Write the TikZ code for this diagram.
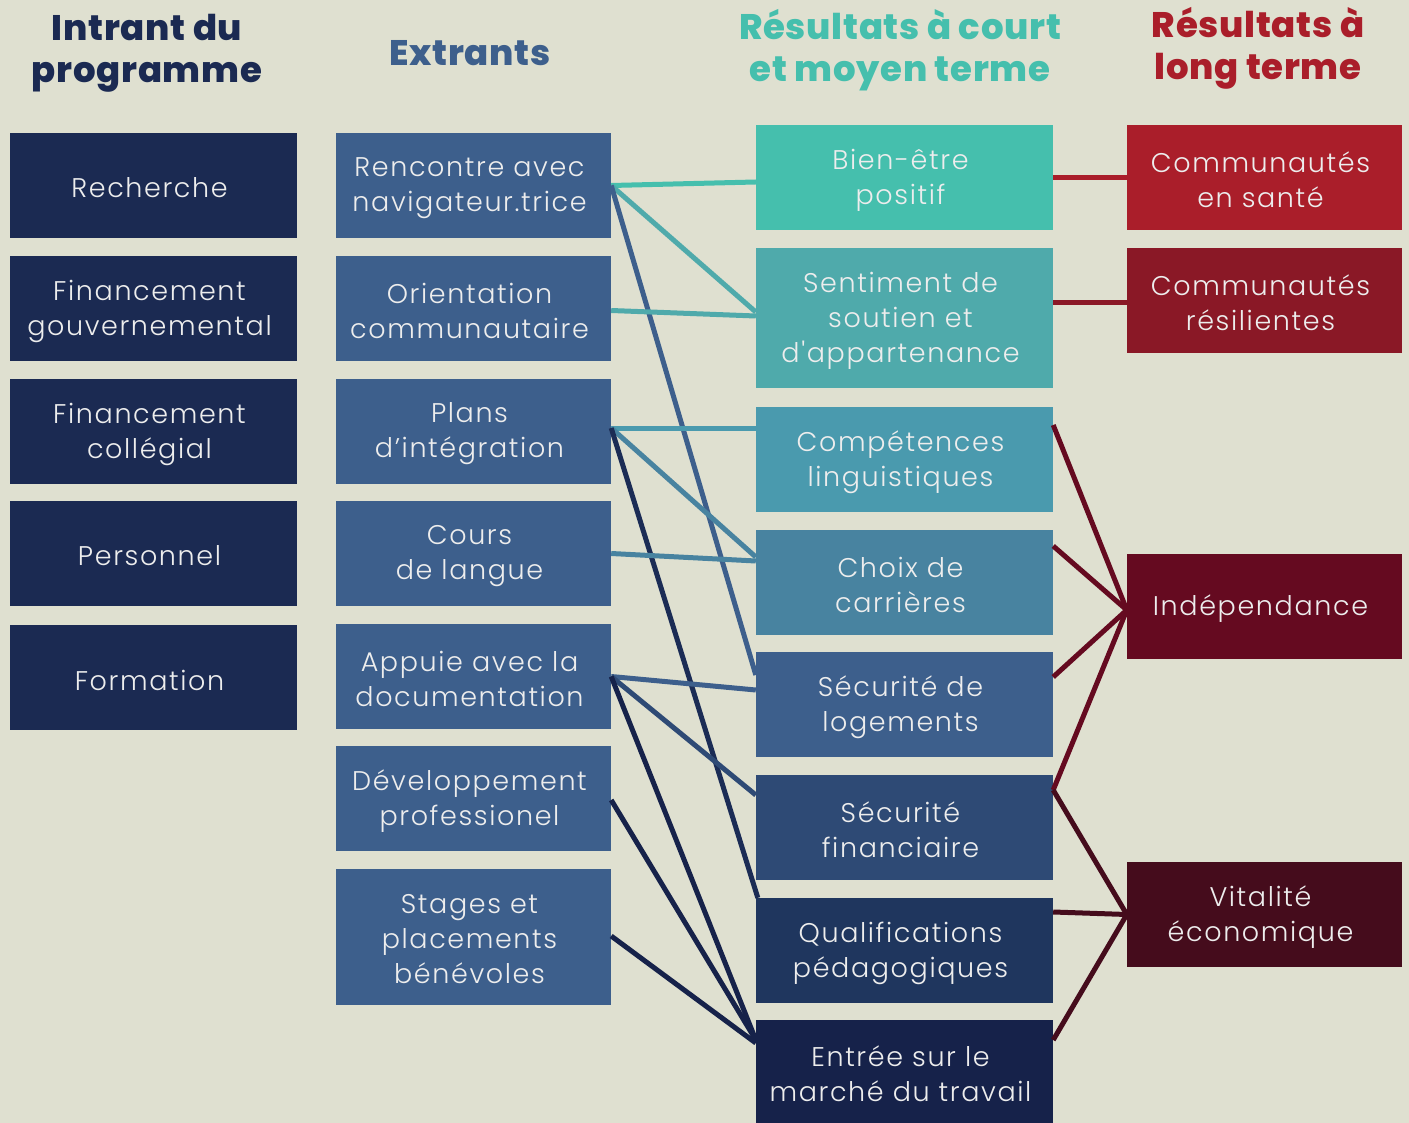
\documentclass[tikz,border=0pt]{standalone}
\usepackage{fontspec}
\newfontfamily\bodyfont{Poppins}[UprightFont=* Light, LetterSpace=6]
\newfontfamily\headfont{Poppins}[UprightFont=* ExtraBold, LetterSpace=2]
\definecolor{bg}{HTML}{DFE0D0}
\definecolor{inC}{HTML}{1B2A52}
\definecolor{exC}{HTML}{3D5F8C}
\definecolor{tA}{HTML}{45BFAD}
\definecolor{tB}{HTML}{4FAAAB}
\definecolor{tC}{HTML}{4A9AAE}
\definecolor{tD}{HTML}{4883A0}
\definecolor{tE}{HTML}{3D5F8C}
\definecolor{tF}{HTML}{2E4A75}
\definecolor{tG}{HTML}{1F365E}
\definecolor{tH}{HTML}{16224A}
\definecolor{lnG}{HTML}{1B2C55}
\definecolor{rA}{HTML}{AA1E2A}
\definecolor{rB}{HTML}{8A1826}
\definecolor{rC}{HTML}{650A20}
\definecolor{rD}{HTML}{450C1C}
\definecolor{boxtext}{HTML}{EDEDED}
\begin{document}
\begin{tikzpicture}[x=1pt,y=-1pt,
  box/.style={rectangle, inner sep=0pt},
  txt/.style={align=center, inner sep=0pt, text=boxtext, xshift=-4pt, yshift=-2.5pt,
    font=\bodyfont\fontsize{27}{35}\selectfont},
  c1/.style={box, fill=inC, minimum width=287pt, minimum height=105pt},
  c2/.style={box, fill=exC, minimum width=275pt, minimum height=105pt},
  c3/.style={box, minimum width=297pt, minimum height=105pt},
  c4/.style={box, minimum width=275pt, minimum height=105pt},
  head/.style={align=center, inner sep=0pt, font=\headfont\fontsize{35.5}{42}\selectfont},
  conn/.style={line width=5pt}]
\fill[bg] (0,0) rectangle (1409,1123);
\useasboundingbox (0,0) rectangle (1409,1123);

% headers
\node[head, text=inC] (h1) at (147,53) {Intrant du\\programme};
\node[head, text=exC] (h2) at (470,53) {Extrants};
\node[head, text=tA] (h3) at (900,50) {Résultats à court\\et moyen terme};
\node[head, text=rA] (h4) at (1258,48) {Résultats à\\long terme};

% column 1
\node[c1, label={[txt]center:Recherche}] (rech) at (153.5,185.5) {};
\node[c1, label={[txt]center:{Financement\\gouvernemental}}] (fgouv) at (153.5,308.5) {};
\node[c1, label={[txt]center:{Financement\\collégial}}] (fcol) at (153.5,431.5) {};
\node[c1, label={[txt]center:Personnel}] (pers) at (153.5,553.5) {};
\node[c1, label={[txt]center:Formation}] (form) at (153.5,677.5) {};

% column 2
\node[c2, label={[txt]center:{Rencontre avec\\navigateur.trice}}] (ren) at (473.5,185.5) {};
\node[c2, label={[txt]center:{Orientation\\communautaire}}] (ori) at (473.5,308.5) {};
\node[c2, label={[txt]center:{Plans\\d’intégration}}] (plans) at (473.5,431.5) {};
\node[c2, label={[txt]center:{Cours\\de langue}}] (cours) at (473.5,553.5) {};
\node[c2, label={[txt]center:{Appuie avec la\\documentation}}] (app) at (473.5,676.5) {};
\node[c2, label={[txt]center:{Développement\\professionel}}] (dev) at (473.5,798.5) {};
\node[c2, minimum height=136pt, label={[txt]center:{Stages et\\placements\\bénévoles}}] (stag) at (473.5,937) {};

% column 3
\node[c3, fill=tA, label={[txt]center:{Bien-être\\positif}}] (bien) at (904.5,177.5) {};
\node[c3, fill=tB, minimum height=140pt, label={[txt]center:{Sentiment de\\soutien et\\d'appartenance}}] (sent) at (904.5,318) {};
\node[c3, fill=tC, label={[txt]center:{Compétences\\linguistiques}}] (comp) at (904.5,459.5) {};
\node[c3, fill=tD, label={[txt]center:{Choix de\\carrières}}] (choix) at (904.5,582.5) {};
\node[c3, fill=tE, label={[txt]center:{Sécurité de\\logements}}] (logt) at (904.5,704.5) {};
\node[c3, fill=tF, label={[txt]center:{Sécurité\\financiaire}}] (fin) at (904.5,827.5) {};
\node[c3, fill=tG, label={[txt]center:{Qualifications\\pédagogiques}}] (qual) at (904.5,950.5) {};
\node[c3, fill=tH, minimum height=103pt, label={[txt]center:{Entrée sur le\\marché du travail}}] (entr) at (904.5,1071.5) {};

% column 4
\node[c4, fill=rA, label={[txt]center:{Communautés\\en santé}}] (sante) at (1264.5,177.5) {};
\node[c4, fill=rB, label={[txt]center:{Communautés\\résilientes}}] (resil) at (1264.5,300.5) {};
\node[c4, fill=rC, label={[txt]center:Indépendance}] (indep) at (1264.5,606.5) {};
\node[c4, fill=rD, label={[txt]center:{Vitalité\\économique}}] (vital) at (1264.5,914.5) {};

% connectors extrants -> short term
\draw[conn, tA] (ren.east) -- ([yshift=-4.5pt]bien.west);
\draw[conn, tB] (ren.east) -- ([yshift=6pt]sent.west);
\draw[conn, tE] (ren.east) -- ([yshift=29.5pt]logt.west);
\draw[conn, tB] ([yshift=-2pt]ori.east) -- ([yshift=2pt]sent.west);
\draw[conn, tC] ([yshift=3.5pt]plans.east) -- ([yshift=31.5pt]comp.west);
\draw[conn, tD] ([yshift=3.5pt]plans.east) -- ([yshift=25.5pt]choix.west);
\draw[conn, lnG] ([yshift=3.5pt]plans.east) -- ([xshift=2pt]qual.north west);
\draw[conn, tD] (cours.east) -- ([yshift=21.5pt]choix.west);
\draw[conn, tE] (app.east) -- ([yshift=14.5pt]logt.west);
\draw[conn, tF] (app.east) -- ([yshift=32.5pt]fin.west);
\draw[conn, tH] (app.east) -- ([yshift=31.5pt]entr.west);
\draw[conn, tH] ([yshift=-1.5pt]dev.east) -- ([yshift=31.5pt]entr.west);
\draw[conn, tH] ([yshift=1pt]stag.east) -- ([yshift=28.5pt]entr.west);

% connectors short -> long term
\draw[conn, rA] (bien.east) -- (sante.west);
\draw[conn, rB] ([yshift=15pt]sent.east) -- ([yshift=-2.5pt]resil.west);
\draw[conn, rC] ([yshift=34.5pt]comp.east) -- ([yshift=-3.5pt]indep.west);
\draw[conn, rC] ([yshift=36.5pt]choix.east) -- ([yshift=-3.5pt]indep.west);
\draw[conn, rC] ([yshift=27.5pt]logt.east) -- ([yshift=-3.5pt]indep.west);
\draw[conn, rC] ([yshift=37.5pt]fin.east) -- ([yshift=-3.5pt]indep.west);
\draw[conn, rD] ([yshift=37.5pt]fin.east) -- (vital.west);
\draw[conn, rD] ([yshift=38.5pt]qual.east) -- (vital.west);
\draw[conn, rD] ([yshift=31.5pt]entr.east) -- (vital.west);
\end{tikzpicture}
\end{document}
